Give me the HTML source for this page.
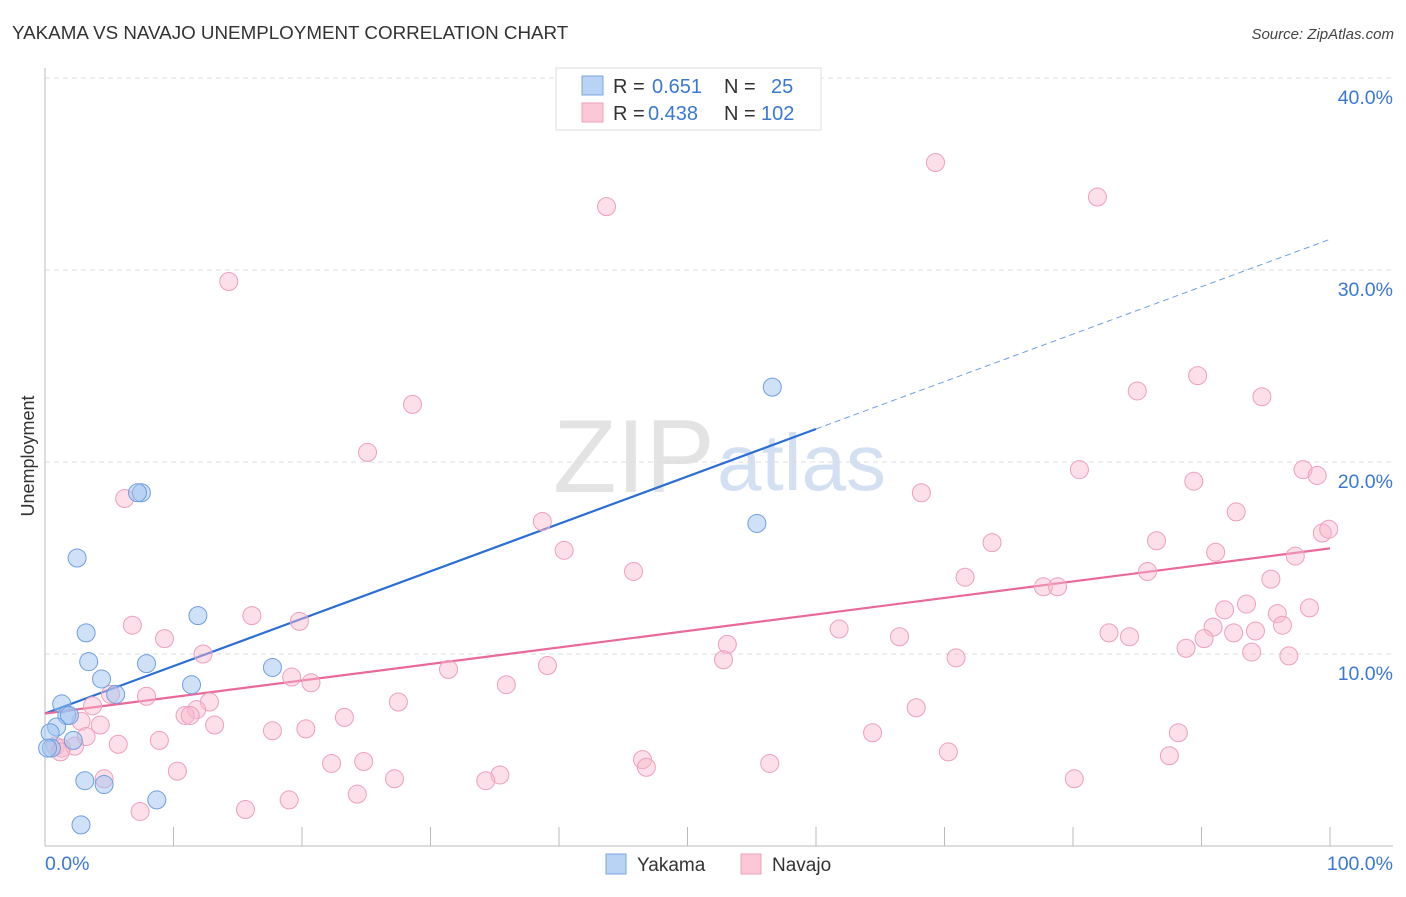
<!DOCTYPE html>
<html><head><meta charset="utf-8">
<style>
body{margin:0;background:#fff;font-family:"Liberation Sans",sans-serif;}
svg text{font-family:"Liberation Sans",sans-serif;}
</style></head>
<body>
<svg id="chart" width="1406" height="892" xmlns="http://www.w3.org/2000/svg">
<text x="12" y="39" font-size="18.8" fill="#333">YAKAMA VS NAVAJO UNEMPLOYMENT CORRELATION CHART</text>
<text x="1394" y="39" font-size="15" fill="#444" text-anchor="end" font-style="italic">Source: ZipAtlas.com</text>
<g>
<text x="553" y="492" font-size="104" fill="#ddd" font-family="Liberation Serif, serif" opacity="0.8">ZIP</text>
<text x="717" y="490" font-size="80" fill="#c9d9f0" opacity="0.8">atlas</text>
</g>
<g id="grid"></g>
<g id="axes"></g>
<text transform="translate(34,456) rotate(-90)" font-size="18" fill="#333" text-anchor="middle">Unemployment</text>
<g id="lines"></g>
<g id="pts"></g>
<g>
<rect x="556" y="68" width="265" height="62" fill="#fff" stroke="#ddd"/>
<rect x="582" y="76" width="21" height="19" fill="#b9d3f5" stroke="#7ba6e0"/>
<rect x="582" y="103" width="21" height="19" fill="#fbc8d8" stroke="#f0a0bb"/>
<text x="613" y="93" font-size="20" fill="#333">R =</text>
<text x="652" y="93" font-size="20" fill="#3a78d4">0.651</text>
<text x="724" y="93" font-size="20" fill="#333">N =</text>
<text x="771" y="93" font-size="20" fill="#3a78d4">25</text>
<text x="613" y="120" font-size="20" fill="#333">R =</text>
<text x="648" y="120" font-size="20" fill="#3a78d4">0.438</text>
<text x="724" y="120" font-size="20" fill="#333">N =</text>
<text x="761" y="120" font-size="20" fill="#3a78d4">102</text>
</g>
<g>
<rect x="606" y="854" width="20" height="20" fill="#b9d3f5" stroke="#7ba6e0"/>
<text x="637" y="871" font-size="19" fill="#333">Yakama</text>
<rect x="741" y="854" width="20" height="20" fill="#fbc8d8" stroke="#f0a0bb"/>
<text x="772" y="871" font-size="19" fill="#333">Navajo</text>
</g>
</svg>
<script>
const yakamaX=[56.6,55.4,7.5,7.2,2.5,3.2,3.4,7.9,11.9,17.7,4.4,5.5,11.4,1.3,1.7,1.9,0.9,0.4,2.2,0.5,3.1,4.6,8.7,2.8,0.2];
const yakamaY=[23.9,16.8,18.4,18.4,15.0,11.1,9.6,9.5,12.0,9.3,8.7,7.9,8.4,7.4,6.8,6.8,6.2,5.9,5.5,5.1,3.4,3.2,2.4,1.1,5.1];
const navajoX=[69.3,43.7,81.9,14.3,28.6,25.1,85.0,89.7,94.7,6.2,68.2,80.5,89.4,97.9,99.0,92.7,38.7,40.4,73.7,86.5,99.4,99.9,91.1,97.3,45.8,85.8,71.6,77.7,78.8,95.4,93.5,91.8,95.9,98.4,16.1,19.8,6.8,9.3,61.8,66.5,82.8,84.4,90.9,94.2,96.3,92.5,53.1,90.2,12.3,52.8,70.9,88.8,93.9,96.8,31.4,39.1,19.2,20.7,35.9,5.1,7.9,3.7,12.8,27.5,11.8,10.9,11.3,2.8,23.3,67.8,4.3,13.2,17.7,20.3,8.9,3.2,5.7,88.2,64.4,0.8,1.3,2.3,1.2,70.3,46.5,46.8,22.3,24.8,56.4,87.5,10.3,27.2,35.4,34.3,80.1,4.6,24.3,19.0,7.4,15.6];
const navajoY=[35.6,33.3,33.8,29.4,23.0,20.5,23.7,24.5,23.4,18.1,18.4,19.6,19.0,19.6,19.3,17.4,16.9,15.4,15.8,15.9,16.3,16.5,15.3,15.1,14.3,14.3,14.0,13.5,13.5,13.9,12.6,12.3,12.1,12.4,12.0,11.7,11.5,10.8,11.3,10.9,11.1,10.9,11.4,11.2,11.5,11.1,10.5,10.8,10.0,9.7,9.8,10.3,10.1,9.9,9.2,9.4,8.8,8.5,8.4,7.9,7.8,7.3,7.5,7.5,7.1,6.8,6.8,6.5,6.7,7.2,6.3,6.3,6.0,6.1,5.5,5.7,5.3,5.9,5.9,5.2,5.1,5.2,4.9,4.9,4.5,4.1,4.3,4.4,4.3,4.7,3.9,3.5,3.7,3.4,3.5,3.5,2.7,2.4,1.8,1.9];
const yTicks=[10,20,30,40];
const yTickLabels=["10.0%","20.0%","30.0%","40.0%"];
const xTicks=[10,20,30,40,50,60,70,80,90,100];
const yakamaTrend=[6.9,31.6];
const navajoTrend=[6.9,15.5];
const yakamaSolidEnd=60;

const NS="http://www.w3.org/2000/svg";
const sx=v=>45+v*12.85, sy=v=>846-v*19.2;
function mk(tag,attrs,parent){const e=document.createElementNS(NS,tag);for(const k in attrs)e.setAttribute(k,attrs[k]);document.getElementById(parent).appendChild(e);return e;}
yTicks.forEach((t,i)=>{
 const g=mk('line',{x1:45,x2:1393,y1:sy(t),y2:sy(t),stroke:'#ddd','stroke-dasharray':'5,4'},'grid');
 
 
 const l=mk('text',{x:1393,y:sy(t)+26,'font-size':19.5,fill:'#3a78d4','text-anchor':'end'},'grid');
 l.textContent=yTickLabels[i];
 
 
});
mk('line',{x1:45,x2:45,y1:68,y2:846,stroke:'#bbb'},'axes');
mk('line',{x1:45,x2:1393,y1:846,y2:846,stroke:'#bbb'},'axes');
xTicks.forEach(t=>{
 const e=mk('line',{x1:sx(t),x2:sx(t),y1:827,y2:846,stroke:'#bbb'},'axes');
 
 
});
const x0=mk('text',{x:45,y:870,'font-size':19.5,fill:'#3a78d4'},'axes');x0.textContent='0.0%';


const x1=mk('text',{x:1393,y:870,'font-size':19.5,fill:'#3a78d4','text-anchor':'end'},'axes');x1.textContent='100.0%';


const ty=x=>yakamaTrend[0]+(yakamaTrend[1]-yakamaTrend[0])*x/100;
const tn=x=>navajoTrend[0]+(navajoTrend[1]-navajoTrend[0])*x/100;
navajoX.forEach((x,i)=>{
 const c=mk('circle',{cx:sx(x),cy:sy(navajoY[i]),r:9,fill:'rgba(248,185,205,0.45)',stroke:'#eea0ba','stroke-width':1},'pts');
 
 
});
yakamaX.forEach((x,i)=>{
 const c=mk('circle',{cx:sx(x),cy:sy(yakamaY[i]),r:9,fill:'rgba(160,195,240,0.5)',stroke:'#6f9fe0','stroke-width':1},'pts');
 
 
});
const a=mk('line',{x1:sx(0),y1:sy(ty(0)),x2:sx(yakamaSolidEnd),y2:sy(ty(yakamaSolidEnd)),stroke:'#2a6fd6','stroke-width':2.2},'lines');


const b=mk('line',{x1:sx(yakamaSolidEnd),y1:sy(ty(yakamaSolidEnd)),x2:sx(100),y2:sy(ty(100)),stroke:'#6f9fe0','stroke-width':1,'stroke-dasharray':'6,4'},'lines');


const n=mk('line',{x1:sx(0),y1:sy(tn(0)),x2:sx(100),y2:sy(tn(100)),stroke:'#e8699a','stroke-width':2.2},'lines');


</script>
</body></html>
